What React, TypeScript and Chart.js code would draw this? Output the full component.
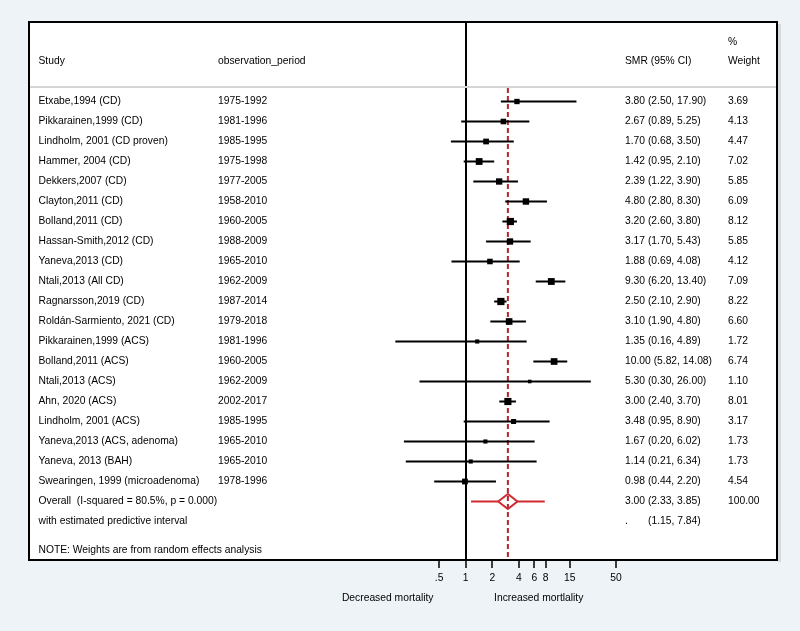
import React, { useEffect, useRef } from 'react';
import { Chart, registerables } from 'chart.js';

Chart.register(...registerables);

const studies = [
  'Etxabe,1994 (CD)',
  'Pikkarainen,1999 (CD)',
  'Lindholm, 2001 (CD proven)',
  'Hammer, 2004 (CD)',
  'Dekkers,2007 (CD)',
  'Clayton,2011 (CD)',
  'Bolland,2011 (CD)',
  'Hassan-Smith,2012 (CD)',
  'Yaneva,2013 (CD)',
  'Ntali,2013 (All CD)',
  'Ragnarsson,2019 (CD)',
  'Roldán-Sarmiento, 2021 (CD)',
  'Pikkarainen,1999 (ACS)',
  'Bolland,2011 (ACS)',
  'Ntali,2013 (ACS)',
  'Ahn, 2020 (ACS)',
  'Lindholm, 2001 (ACS)',
  'Yaneva,2013 (ACS, adenoma)',
  'Yaneva, 2013 (BAH)',
  'Swearingen, 1999 (microadenoma)',
];

const periods = [
  '1975-1992', '1981-1996', '1985-1995', '1975-1998', '1977-2005',
  '1958-2010', '1960-2005', '1988-2009', '1965-2010', '1962-2009',
  '1987-2014', '1979-2018', '1981-1996', '1960-2005', '1962-2009',
  '2002-2017', '1985-1995', '1965-2010', '1965-2010', '1978-1996',
];

const smr = [3.80, 2.67, 1.70, 1.42, 2.39, 4.80, 3.20, 3.17, 1.88, 9.30, 2.50, 3.10, 1.35, 10.00, 5.30, 3.00, 3.48, 1.67, 1.14, 0.98];
const ciLower = [2.50, 0.89, 0.68, 0.95, 1.22, 2.80, 2.60, 1.70, 0.69, 6.20, 2.10, 1.90, 0.16, 5.82, 0.30, 2.40, 0.95, 0.20, 0.21, 0.44];
const ciUpper = [17.90, 5.25, 3.50, 2.10, 3.90, 8.30, 3.80, 5.43, 4.08, 13.40, 2.90, 4.80, 4.89, 14.08, 26.00, 3.70, 8.90, 6.02, 6.34, 2.20];
const weights = [3.69, 4.13, 4.47, 7.02, 5.85, 6.09, 8.12, 5.85, 4.12, 7.09, 8.22, 6.60, 1.72, 6.74, 1.10, 8.01, 3.17, 1.73, 1.73, 4.54];

const overallSMR = 3.00;
const overallLower = 2.33;
const overallUpper = 3.85;
const overallWeight = 100.0;
const predLower = 1.15;
const predUpper = 7.84;

const xTicks = [0.5, 1, 2, 4, 6, 8, 15, 50];
const xTickLabels = ['.5', '1', '2', '4', '6', '8', '15', '50'];

const FONT_FAMILY = '"Liberation Sans", Arial, Helvetica, sans-serif';
const FONT_SIZE = 10.3;
const FONT = `${FONT_SIZE}px ${FONT_FAMILY}`;
const RED = '#cf2a2f';
const DASH_RED = '#b5242c';

const fmt = (v: number) => v.toFixed(2);

export default function App() {
  const canvasRef = useRef<HTMLCanvasElement | null>(null);

  useEffect(() => {
    const canvas = canvasRef.current;
    if (!canvas) return;

    const n = studies.length;
    const overallRow = n;
    const predRow = n + 1;
    const noteRow = n + 2.42;
    const headerRow = -2;
    const pctRow = -2.95;
    const headerLineRow = -0.72;

    // CI segments separated by gaps
    const ciData: { x: number; y: number | null }[] = [];
    studies.forEach((_, i) => {
      ciData.push({ x: ciLower[i], y: i });
      ciData.push({ x: ciUpper[i], y: i });
      ciData.push({ x: ciUpper[i], y: null });
    });

    const squareData = studies.map((_, i) => ({ x: smr[i], y: i }));
    const squareRadius = weights.map((w) => (1.5 + 2 * Math.sqrt(w)) / Math.SQRT2);

    const dh = 0.38;
    const diamondData = [
      { x: overallLower, y: overallRow },
      { x: overallSMR, y: overallRow - dh },
      { x: overallUpper, y: overallRow },
      { x: overallSMR, y: overallRow + dh },
      { x: overallLower, y: overallRow },
    ];

    const predData: { x: number; y: number | null }[] = [
      { x: predLower, y: overallRow },
      { x: overallLower, y: overallRow },
      { x: overallLower, y: null },
      { x: overallUpper, y: overallRow },
      { x: predUpper, y: overallRow },
    ];

    const yMin = -3.975;
    const yMax = 22.925;

    const dashData = [
      { x: overallSMR, y: headerLineRow + 0.05 },
      { x: overallSMR, y: yMax },
    ];

    const textPlugin = {
      id: 'forestText',
      beforeDraw(chart: any) {
        const { ctx, chartArea } = chart;
        ctx.save();
        ctx.fillStyle = '#eef3f7';
        ctx.fillRect(0, 0, chart.width, chart.height);
        ctx.fillStyle = '#ffffff';
        ctx.fillRect(chartArea.left, chartArea.top, chartArea.right - chartArea.left, chartArea.bottom - chartArea.top);
        ctx.restore();
      },
      beforeDatasetsDraw(chart: any) {
        const { ctx, chartArea, scales } = chart;
        const y = scales.y.getPixelForValue(headerLineRow);
        ctx.save();
        ctx.strokeStyle = '#d6d6d6';
        ctx.lineWidth = 2;
        ctx.beginPath();
        ctx.moveTo(chartArea.left, y);
        ctx.lineTo(chartArea.right, y);
        ctx.stroke();
        ctx.restore();
      },
      afterDraw(chart: any) {
        const { ctx, chartArea, scales } = chart;
        const ys = scales.y;
        const xs = scales.x;
        const colStudy = chartArea.left + 9.5;
        const colPeriod = chartArea.left + 189;
        const colSMR = chartArea.left + 596;
        const colWeight = chartArea.left + 699;

        ctx.save();
        ctx.font = FONT;
        ctx.fillStyle = '#000';
        ctx.textBaseline = 'middle';
        ctx.textAlign = 'left';

        const put = (t: string, x: number, row: number) => ctx.fillText(t, x, ys.getPixelForValue(row));

        put('Study', colStudy, headerRow);
        put('observation_period', colPeriod, headerRow);
        put('SMR (95% CI)', colSMR, headerRow);
        put('%', colWeight, pctRow);
        put('Weight', colWeight, headerRow);

        studies.forEach((s, i) => {
          put(s, colStudy, i);
          put(periods[i], colPeriod, i);
          put(`${fmt(smr[i])} (${fmt(ciLower[i])}, ${fmt(ciUpper[i])})`, colSMR, i);
          put(fmt(weights[i]), colWeight, i);
        });

        put('Overall  (I-squared = 80.5%, p = 0.000)', colStudy, overallRow);
        put(`${fmt(overallSMR)} (${fmt(overallLower)}, ${fmt(overallUpper)})`, colSMR, overallRow);
        put(fmt(overallWeight), colWeight, overallRow);
        put('with estimated predictive interval', colStudy, predRow);
        put('.', colSMR, predRow);
        put(`(${fmt(predLower)}, ${fmt(predUpper)})`, colSMR + 23, predRow);
        put('NOTE: Weights are from random effects analysis', colStudy, noteRow);

        // axis captions
        const x1 = xs.getPixelForValue(1);
        ctx.textAlign = 'center';
        ctx.fillText('Decreased mortality', x1 - 78, chartArea.bottom + 38);
        ctx.fillText('Increased mortlality', x1 + 73, chartArea.bottom + 38);

        // box shadow + border
        ctx.fillStyle = 'rgba(0,0,0,0.10)';
        ctx.fillRect(chartArea.right + 1, chartArea.top + 2, 3, chartArea.bottom - chartArea.top);
        ctx.strokeStyle = '#000';
        ctx.lineWidth = 2;
        ctx.beginPath();
        ctx.moveTo(chartArea.left, chartArea.bottom);
        ctx.lineTo(chartArea.left, chartArea.top);
        ctx.lineTo(chartArea.right, chartArea.top);
        ctx.lineTo(chartArea.right, chartArea.bottom);
        ctx.stroke();
        ctx.restore();
      },
    };

    const chart = new Chart(canvas, {
      type: 'scatter',
      data: {
        datasets: [
          {
            label: 'CI',
            data: ciData as any,
            showLine: true,
            spanGaps: false,
            borderColor: '#000',
            borderWidth: 2,
            pointRadius: 0,
            order: 3,
          },
          {
            label: 'Studies',
            data: squareData,
            pointStyle: 'rect',
            pointRadius: squareRadius,
            backgroundColor: '#000',
            borderColor: '#000',
            borderWidth: 0,
            showLine: false,
            order: 2,
          },
          {
            label: 'Predictive',
            data: predData as any,
            showLine: true,
            spanGaps: false,
            borderColor: RED,
            borderWidth: 2,
            pointRadius: 0,
            order: 1,
          },
          {
            label: 'Overall',
            data: diamondData,
            showLine: true,
            borderColor: RED,
            borderWidth: 2,
            pointRadius: 0,
            tension: 0,
            fill: false,
            order: 0,
          },
          {
            label: 'Overall line',
            data: dashData,
            showLine: true,
            borderColor: DASH_RED,
            borderWidth: 2,
            borderDash: [5, 3],
            pointRadius: 0,
            order: 4,
          },
        ],
      },
      options: {
        responsive: false,
        animation: false,
        devicePixelRatio: 1,
        layout: { padding: { left: 29, right: 23, top: 22, bottom: 0 } },
        plugins: {
          legend: { display: false },
          tooltip: { enabled: false },
        },
        scales: {
          x: {
            type: 'logarithmic',
            min: 1.148e-5,
            max: 3323,
            bounds: 'data',
            afterBuildTicks: (scale: any) => {
              scale.ticks = xTicks.map((v) => ({ value: v }));
            },
            afterFit: (scale: any) => {
              scale.height = 71;
            },
            ticks: {
              autoSkip: false,
              maxRotation: 0,
              padding: 4,
              color: '#000',
              font: { family: FONT_FAMILY, size: FONT_SIZE },
              callback: (_v: any, i: number) => xTickLabels[i],
            },
            grid: {
              color: (c: any) => (c.tick && c.tick.value === 1 ? '#000' : 'rgba(0,0,0,0)'),
              lineWidth: 2,
              tickColor: '#000',
              tickLength: 8,
              tickWidth: 1.5,
            },
            border: { display: true, color: '#000', width: 2 },
          },
          y: {
            type: 'linear',
            display: false,
            reverse: true,
            min: yMin,
            max: yMax,
          },
        },
      },
      plugins: [textPlugin],
    } as any);

    return () => chart.destroy();
  }, []);

  return (
    <canvas
      ref={canvasRef}
      width={800}
      height={631}
      style={{ position: 'absolute', left: 0, top: 0, width: 800, height: 631 }}
    />
  );
}
